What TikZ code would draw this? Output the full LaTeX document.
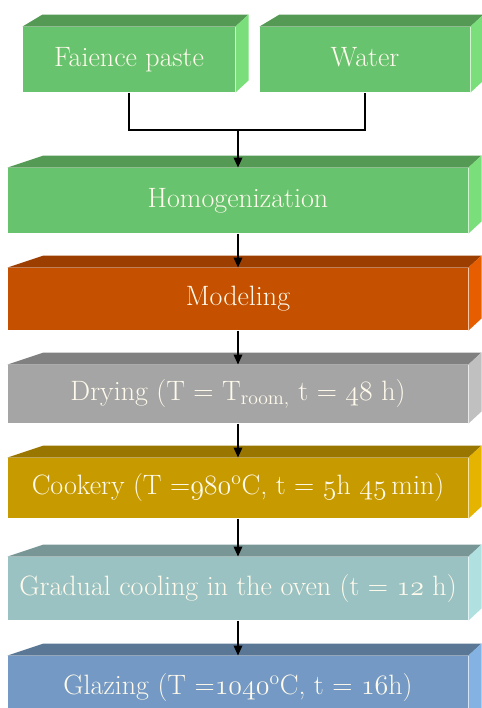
\RequirePackage{fix-cm}
\documentclass[tikz,border=0pt]{standalone}
\usetikzlibrary{calc,arrows.meta}

% front / top / side shades of each slab
\definecolor{greenF}{RGB}{104,195,110}
\definecolor{greenT}{RGB}{84,153,84}
\definecolor{greenS}{RGB}{122,222,122}
\definecolor{orangeF}{RGB}{196,80,0}
\definecolor{orangeT}{RGB}{156,62,0}
\definecolor{orangeS}{RGB}{230,94,0}
\definecolor{grayF}{RGB}{165,165,165}
\definecolor{grayT}{RGB}{128,128,128}
\definecolor{grayS}{RGB}{192,192,192}
\definecolor{goldF}{RGB}{199,155,0}
\definecolor{goldT}{RGB}{153,118,0}
\definecolor{goldS}{RGB}{228,180,0}
\definecolor{tealF}{RGB}{155,194,194}
\definecolor{tealT}{RGB}{120,150,150}
\definecolor{tealS}{RGB}{176,224,224}
\definecolor{blueF}{RGB}{115,153,196}
\definecolor{blueT}{RGB}{90,120,150}
\definecolor{blueS}{RGB}{132,178,226}
\definecolor{stagetext}{RGB}{255,250,236}

% old-style figures
\newcommand{\osn}[1]{{\usefont{OML}{cmm}{m}{it}#1}}

\tikzset{every picture/.style={line width=0.75pt}}
\tikzset{
	stage/.style={rectangle, inner sep=0pt, minimum width=345pt, text=stagetext, text height=15pt, text depth=5pt, font=\fontsize{21}{25}\selectfont},
	flow/.style={line width=1.1pt, -{Triangle[length=7.5pt,width=6.5pt]}},
}

% top and right faces of a slab: node, top colour, side colour, left slant
\newcommand{\slab}[4]{%
	\fill[#2] (#1.north west) -- ++(#4,-12) -- ($(#1.north east)+(13,-12)$) -- (#1.north east) -- cycle;
	\fill[#3] (#1.north east) -- ++(13,-12) -- ($(#1.south east)+(13,-12)$) -- (#1.south east) -- cycle;
}

\begin{document}
\begin{tikzpicture}[x=0.75pt,y=0.75pt,yscale=-1,xscale=1]
	\useasboundingbox (0,0) rectangle (482,708);
	\clip (0,0) rectangle (482,708);
	
	% Inputs
	\node[stage, fill=greenF, minimum width=159pt, minimum height=48.75pt] (paste) at (129,59.5) {Faience paste};
	\node[stage, fill=greenF, minimum width=157.5pt, minimum height=48.75pt] (water) at (365,59.5) {Water};
	\slab{paste}{greenT}{greenS}{20}
	\slab{water}{greenT}{greenS}{20}
	
	% Process steps
	\node[stage, fill=greenF, minimum height=48.75pt] (homog) at (238,200.5) {Homogenization};
	\node[stage, fill=orangeF, minimum height=46.5pt] (model) at (238,299) {Modeling};
	\node[stage, fill=grayF, minimum height=43.5pt] (dry) at (238,394) {Drying (T = T\textsubscript{room,} t = \osn{48} h)};
	\node[stage, fill=goldF, minimum height=45pt] (cook) at (238,488) {Cookery (T =\osn{980}\textsuperscript{o}C, t = \osn{5}h \osn{45}\,min)};
	\node[stage, fill=tealF, minimum height=47.25pt] (cool) at (238,588.5) {Gradual cooling in the oven (t = \osn{12} h)};
	\node[stage, fill=blueF, minimum height=48pt] (glaze) at (238,688) {Glazing (T =\osn{1040}\textsuperscript{o}C, t = \osn{16}h)};
	\slab{homog}{greenT}{greenS}{36}
	\slab{model}{orangeT}{orangeS}{36}
	\slab{dry}{grayT}{grayS}{36}
	\slab{cook}{goldT}{goldS}{36}
	\slab{cool}{tealT}{tealS}{36}
	\slab{glaze}{blueT}{blueS}{36}
	
	% Connectors
	\coordinate (join) at (homog.north |- 0,130);
	\draw[line width=1.1pt] (paste.south) |- (join) -| (water.south);
	\draw[flow] (join) -- (homog.north);
	\foreach \a/\b in {homog/model, model/dry, dry/cook, cook/cool, cool/glaze}
		\draw[flow] (\a.south) -- (\b.north);
	
\end{tikzpicture}
\end{document}
